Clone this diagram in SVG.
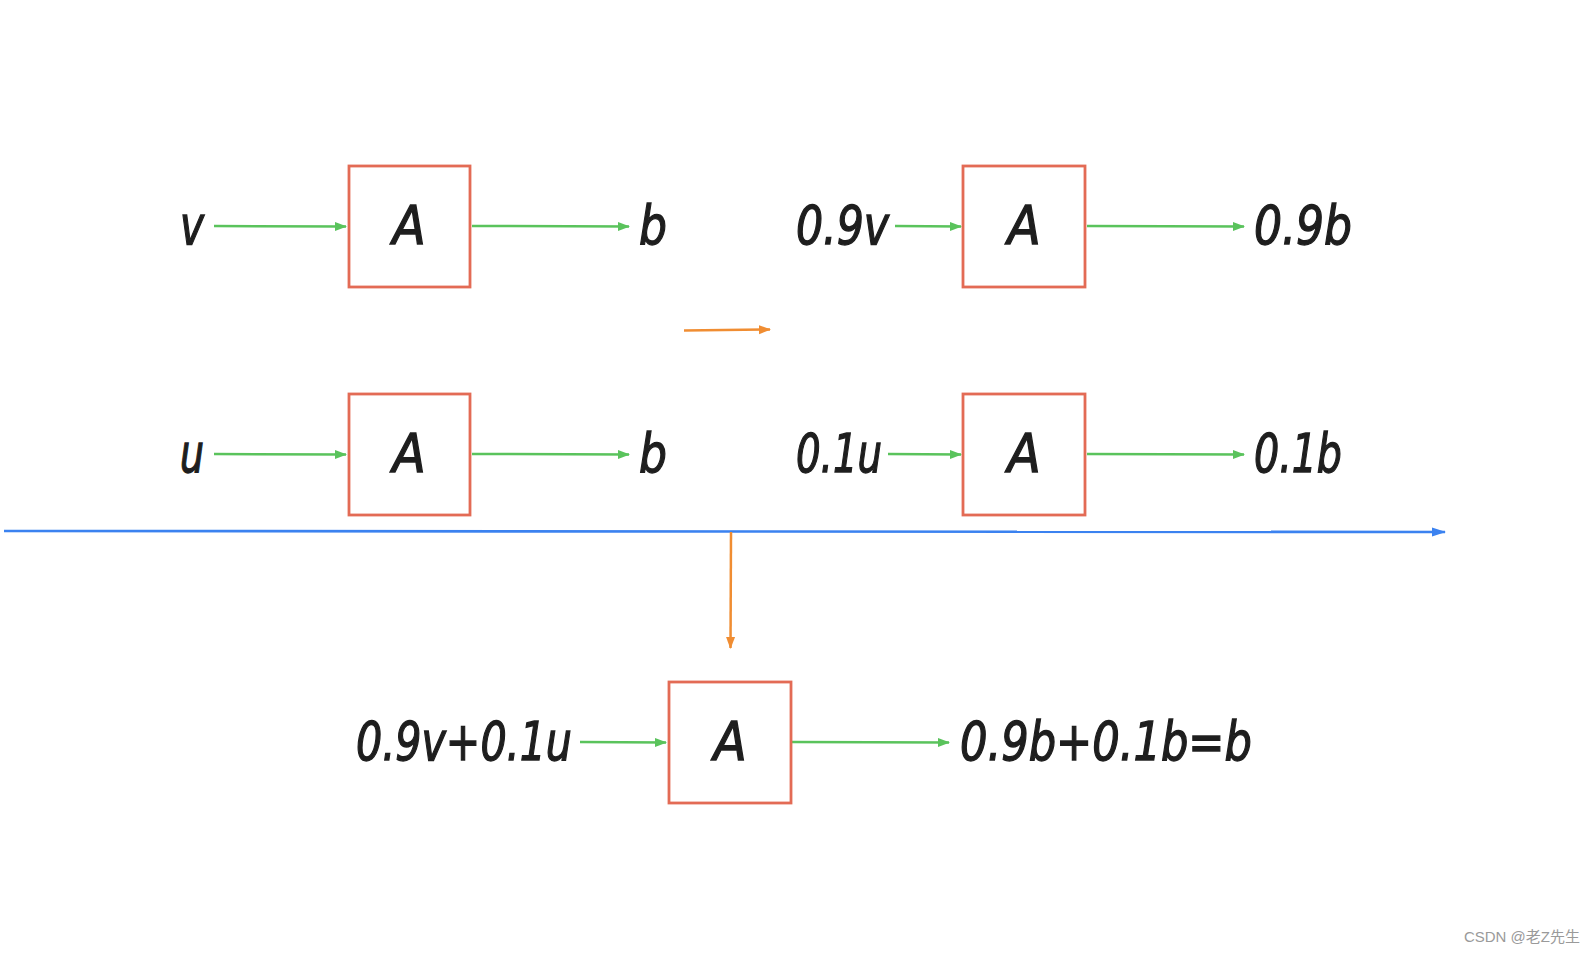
<svg xmlns="http://www.w3.org/2000/svg" width="1596" height="955" viewBox="0 0 1596 955">
<style>
.box{fill:#fff;stroke:#e36b55;stroke-width:2.8}
.t{font-family:"Liberation Sans Narrow","DejaVu Sans Condensed","Liberation Sans",sans-serif;font-style:italic;font-size:54px;fill:#1e1e1e;stroke:#1e1e1e;stroke-width:1.3}
.g{stroke:#5ac35c;stroke-width:2.5;fill:none}
.o{stroke:#f08d32;stroke-width:2.5;fill:none}
.b{stroke:#3b82f0;stroke-width:2.6;fill:none}
.wm{font-family:"Liberation Sans","Noto Sans CJK SC",sans-serif;font-size:15px;fill:#9a9a9a}
</style>
<defs>
<marker id="ag" markerUnits="userSpaceOnUse" markerWidth="12" markerHeight="10" refX="11" refY="5" orient="auto"><path d="M0,0.5 L12,5 L0,9.5 Z" fill="#5ac35c"/></marker>
<marker id="ao" markerUnits="userSpaceOnUse" markerWidth="12" markerHeight="10" refX="11" refY="5" orient="auto"><path d="M0,0.5 L12,5 L0,9.5 Z" fill="#f08d32"/></marker>
<marker id="ab" markerUnits="userSpaceOnUse" markerWidth="14" markerHeight="10" refX="13" refY="5" orient="auto"><path d="M0,0.5 L14,5 L0,9.5 Z" fill="#3b82f0"/></marker>
</defs>
<rect width="1596" height="955" fill="#fff"/>
<g id="connectors">
<line class="g" x1="214" y1="226" x2="346" y2="226.5" marker-end="url(#ag)"/>
<line class="g" x1="472" y1="226" x2="629" y2="226.5" marker-end="url(#ag)"/>
<line class="g" x1="895" y1="226" x2="961" y2="226.5" marker-end="url(#ag)"/>
<line class="g" x1="1087" y1="226" x2="1244" y2="226.5" marker-end="url(#ag)"/>
<line class="g" x1="214" y1="454" x2="346" y2="454.5" marker-end="url(#ag)"/>
<line class="g" x1="472" y1="454" x2="629" y2="454.5" marker-end="url(#ag)"/>
<line class="g" x1="888" y1="454" x2="961" y2="454.5" marker-end="url(#ag)"/>
<line class="g" x1="1087" y1="454" x2="1244" y2="454.5" marker-end="url(#ag)"/>
<line class="g" x1="580" y1="742" x2="666" y2="742.5" marker-end="url(#ag)"/>
<line class="g" x1="792" y1="742" x2="949" y2="742.5" marker-end="url(#ag)"/>
<line class="o" x1="684" y1="330.5" x2="770" y2="329.5" marker-end="url(#ao)"/>
<line class="b" x1="4" y1="531" x2="1445" y2="532" marker-end="url(#ab)"/>
<line class="o" x1="731" y1="532" x2="730.5" y2="648" marker-end="url(#ao)"/>
</g>
<g id="v"><text class="t" x="180" y="244" textLength="24" lengthAdjust="spacingAndGlyphs">v</text></g>
<g id="box1"><rect class="box" x="349" y="166" width="121" height="121"/><text class="t" x="409" y="244" text-anchor="middle">A</text></g>
<g id="b1"><text class="t" x="639" y="244" textLength="28" lengthAdjust="spacingAndGlyphs">b</text></g>
<g id="v09"><text class="t" x="796" y="244" textLength="93" lengthAdjust="spacingAndGlyphs">0.9v</text></g>
<g id="box2"><rect class="box" x="963" y="166" width="122" height="121"/><text class="t" x="1024" y="244" text-anchor="middle">A</text></g>
<g id="b09"><text class="t" x="1254" y="244" textLength="98" lengthAdjust="spacingAndGlyphs">0.9b</text></g>
<g id="u"><text class="t" x="180" y="472" textLength="24" lengthAdjust="spacingAndGlyphs">u</text></g>
<g id="box3"><rect class="box" x="349" y="394" width="121" height="121"/><text class="t" x="409" y="472" text-anchor="middle">A</text></g>
<g id="b2"><text class="t" x="639" y="472" textLength="28" lengthAdjust="spacingAndGlyphs">b</text></g>
<g id="u01"><text class="t" x="796" y="472" textLength="86" lengthAdjust="spacingAndGlyphs">0.1u</text></g>
<g id="box4"><rect class="box" x="963" y="394" width="122" height="121"/><text class="t" x="1024" y="472" text-anchor="middle">A</text></g>
<g id="b01"><text class="t" x="1254" y="472" textLength="88" lengthAdjust="spacingAndGlyphs">0.1b</text></g>
<g id="sumin"><text class="t" x="356" y="760" textLength="216" lengthAdjust="spacingAndGlyphs">0.9v+0.1u</text></g>
<g id="box5"><rect class="box" x="669" y="682" width="122" height="121"/><text class="t" x="730" y="760" text-anchor="middle">A</text></g>
<g id="sumout"><text class="t" x="960" y="760" textLength="292" lengthAdjust="spacingAndGlyphs">0.9b+0.1b=b</text></g>
<text class="wm" x="1580" y="942" text-anchor="end">CSDN @老Z先生</text>
</svg>
